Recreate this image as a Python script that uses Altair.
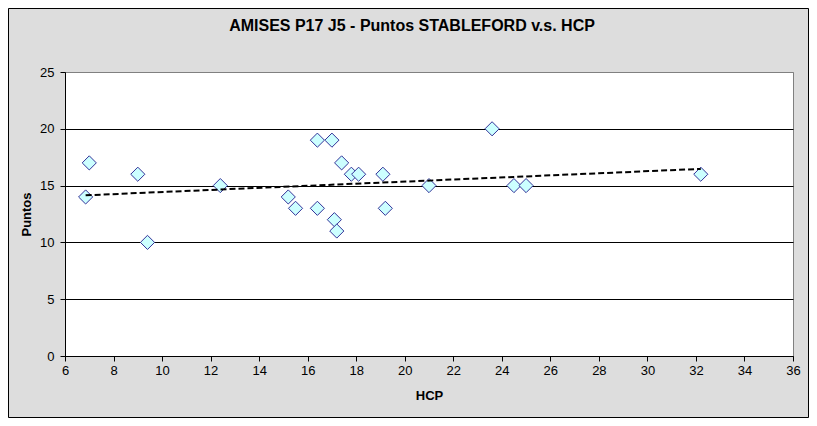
import altair as alt
import pandas as pd

# Data
hcp = [6.85, 7.0, 9.0, 9.4, 12.4, 15.2, 15.5, 16.4, 17.0, 16.4, 17.4, 17.1,
       17.2, 17.8, 18.1, 19.1, 19.2, 21.0, 23.6, 24.5, 25.0, 32.2]
puntos = [14, 17, 16, 10, 15, 14, 13, 19, 19, 13, 17, 12,
          11, 16, 16, 16, 13, 15, 20, 15, 15, 16]
x_ticks = list(range(6, 37, 2))
y_ticks = [0, 5, 10, 15, 20, 25]

title_text = "AMISES P17 J5 - Puntos STABLEFORD v.s. HCP"
FONT = "Liberation Sans"

df = pd.DataFrame({"HCP": hcp, "Puntos": puntos})

W, H = 728, 284
PAD = {"left": 57, "top": 64, "right": 16, "bottom": 62}

x_enc = alt.X(
    "HCP:Q",
    scale=alt.Scale(domain=[6, 36], nice=False, zero=False),
    axis=alt.Axis(values=x_ticks, title="HCP", grid=False, tickSize=5,
                  labelPadding=3, titlePadding=12, labelFlush=False),
)
y_enc = alt.Y(
    "Puntos:Q",
    scale=alt.Scale(domain=[0, 25], nice=False),
    axis=alt.Axis(values=y_ticks, title="Puntos", grid=True, tickSize=5,
                  labelPadding=6, titlePadding=6, labelFlush=False,
                  gridColor=alt.condition("datum.value == 25",
                                          alt.value("#808080"),
                                          alt.value("black"))),
)

points = alt.Chart(df).mark_point(
    shape="diamond", size=200, filled=True, fill="#ccffff",
    stroke="#333399", strokeWidth=1, opacity=1,
).encode(x=x_enc, y=y_enc)

trend = alt.Chart(df).transform_regression("HCP", "Puntos").mark_line(
    color="black", strokeWidth=2, strokeDash=[6, 3],
).encode(x=x_enc, y=y_enc)

border_df = pd.DataFrame({"k": [0]})
border = alt.Chart(border_df).mark_rect(
    fill=None, stroke="black", strokeWidth=1,
).encode(
    x=alt.value(-PAD["left"] + 0.5),
    x2=alt.value(W + PAD["right"] - 0.5),
    y=alt.value(-PAD["top"] + 0.5),
    y2=alt.value(H + PAD["bottom"] - 0.5),
)

title_df = pd.DataFrame({"t": [title_text]})
title = alt.Chart(title_df).mark_text(
    font=FONT, fontSize=16, fontWeight="bold", color="black",
    align="center", baseline="middle",
).encode(
    text="t:N",
    x=alt.value(347),
    y=alt.value(-46),
)

chart = alt.layer(points, trend, border, title).properties(
    width=W,
    height=H,
    autosize=alt.AutoSizeParams(type="none"),
    padding=PAD,
    background="#dddddd",
).configure_view(
    fill="white", stroke="#808080", strokeWidth=1,
).configure_axis(
    labelFont=FONT, labelFontSize=13, labelColor="black",
    titleFont=FONT, titleFontSize=13, titleFontWeight="bold",
    titleColor="black", domainColor="black", tickColor="black",
    gridColor="black", gridWidth=1, domainWidth=1,
)

chart.save("out.html", embed_options={"renderer": "svg", "actions": False})
